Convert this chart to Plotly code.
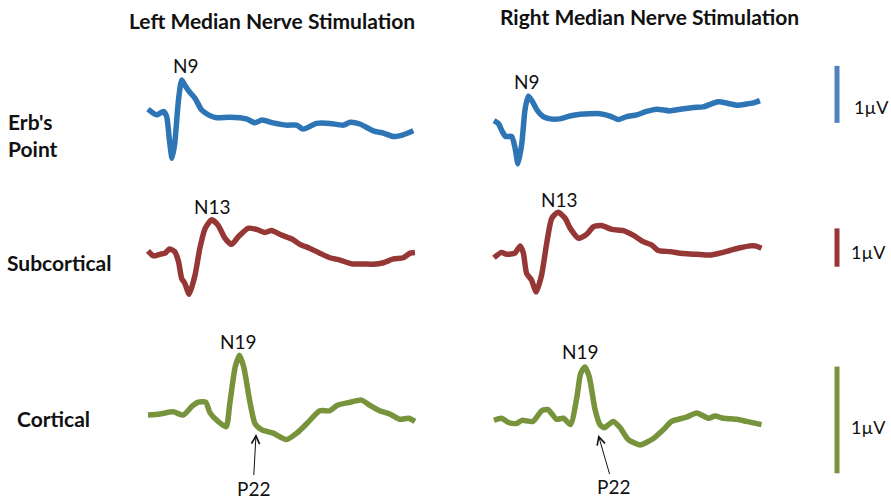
import plotly.graph_objects as go

# ---------------- data (time in ms, amplitude in µV) ----------------
erb_left_t = [0.0, 1.6, 2.9, 3.5, 4.0, 4.5, 5.0, 5.7, 6.3, 6.9, 7.7, 8.8, 10.0, 11.3, 12.8, 15.3, 18.4,
              20.0, 21.3, 23.4, 25.9, 27.8, 29.0, 31.5, 34.0, 36.5, 37.8, 39.6, 42.1, 44.0, 45.9, 47.7, 49.6]
erb_left_v = [0.19, 0.09, 0.15, 0.06, -0.35, -0.67, -0.41, 0.35, 0.70, 0.61, 0.50, 0.38, 0.18, 0.09, 0.04, 0.05, 0.02,
              -0.05, 0.00, -0.05, -0.09, -0.09, -0.16, -0.06, -0.06, -0.09, -0.04, -0.07, -0.19, -0.23, -0.29, -0.26, -0.19]

erb_right_t = [0.0, 0.8, 1.6, 2.2, 3.3, 3.9, 4.5, 5.2, 5.8, 6.4, 7.2, 8.0, 9.2, 10.5, 12.3, 14.2, 16.1, 17.9,
               19.8, 21.7, 23.2, 24.8, 26.7, 28.5, 30.4, 32.9, 34.8, 37.3, 39.1, 41.9, 43.8, 45.4, 47.2, 48.5, 49.7]
erb_right_v = [-0.01, -0.06, -0.21, -0.29, -0.29, -0.47, -0.77, -0.41, 0.18, 0.42, 0.32, 0.18, 0.06, 0.02, 0.02, 0.07, 0.10, 0.11,
               0.11, 0.07, 0.01, 0.06, 0.09, 0.15, 0.19, 0.16, 0.19, 0.22, 0.23, 0.32, 0.29, 0.26, 0.28, 0.30, 0.34]

sub_left_t = [0.0, 1.0, 2.2, 3.2, 4.0, 5.0, 5.7, 6.3, 6.9, 7.7, 8.8, 9.7, 10.7, 11.9, 13.1, 14.4, 15.6, 16.9, 18.7,
              20.3, 21.9, 23.1, 25.0, 26.9, 28.4, 30.2, 32.1, 34.0, 35.9, 38.1, 40.2, 42.1, 44.0, 45.9, 47.7, 49.0, 49.9]
sub_left_v = [0.03, -0.10, -0.06, -0.03, 0.08, 0.01, -0.25, -0.69, -0.82, -1.10, -0.60, 0.10, 0.62, 0.84, 0.70, 0.36, 0.20, 0.40, 0.62,
              0.59, 0.51, 0.56, 0.44, 0.34, 0.20, 0.10, -0.03, -0.15, -0.21, -0.31, -0.31, -0.32, -0.28, -0.18, -0.15, -0.03, -0.01]

sub_right_t = [0.0, 1.4, 2.4, 3.9, 4.9, 5.5, 6.1, 7.0, 7.9, 8.9, 9.9, 10.8, 12.0, 13.3, 14.2, 15.8, 17.3, 18.6,
               20.1, 22.0, 24.2, 26.0, 27.9, 29.5, 30.7, 32.9, 35.4, 37.9, 40.4, 42.2, 44.1, 46.0, 47.9, 48.8, 50.0]
sub_right_v = [-0.15, -0.01, -0.06, -0.03, 0.16, -0.03, -0.56, -0.73, -1.04, -0.60, 0.27, 0.88, 1.04, 0.88, 0.63, 0.36, 0.46, 0.66,
               0.69, 0.59, 0.56, 0.44, 0.27, 0.18, 0.04, 0.01, -0.04, -0.06, -0.08, -0.03, 0.04, 0.11, 0.16, 0.16, 0.10]

cor_left_t = [0.0, 2.2, 4.7, 6.6, 8.2, 9.4, 10.8, 11.6, 13.1, 14.6, 15.3, 16.3, 17.1, 17.9, 19.1, 20.0, 21.3,
              23.4, 25.9, 27.8, 29.7, 32.1, 34.0, 35.3, 37.8, 39.9, 41.5, 43.3, 45.2, 47.1, 48.7, 49.9]
cor_left_v = [0.00, 0.01, 0.03, 0.00, 0.08, 0.12, 0.12, 0.02, -0.06, -0.11, 0.11, 0.45, 0.56, 0.45, 0.11, -0.08, -0.14,
              -0.17, -0.23, -0.17, -0.08, 0.04, 0.04, 0.09, 0.12, 0.14, 0.09, 0.04, 0.01, -0.04, -0.03, -0.06]

cor_right_t = [0.0, 1.4, 2.7, 4.2, 5.2, 7.3, 8.9, 10.1, 11.7, 13.0, 14.3, 15.5, 16.2, 17.0, 17.8, 18.9, 19.8,
               20.6, 21.4, 22.3, 23.6, 25.1, 27.3, 29.8, 31.6, 33.2, 36.0, 37.9, 40.1, 41.3, 42.9, 45.4, 47.2, 50.0]
cor_right_v = [-0.05, -0.03, -0.07, -0.08, -0.05, -0.06, 0.04, 0.05, -0.04, -0.03, -0.09, 0.17, 0.39, 0.45, 0.36, 0.05, -0.09,
               -0.12, -0.09, -0.06, -0.12, -0.23, -0.28, -0.22, -0.14, -0.06, -0.02, 0.02, -0.03, -0.01, -0.03, -0.04, -0.06, -0.09]

column_titles = ["Left Median Nerve Stimulation", "Right Median Nerve Stimulation"]
row_labels = ["Erb's<br>Point", "Subcortical", "Cortical"]
scale_bar_uV = 1.0
scale_label = "1µV"

# peak labels: (text, column, row, time ms, amplitude µV)
peak_labels = [("N9", 0, 0, 7.1, 0.965), ("N9", 1, 0, 6.1, 0.67),
               ("N13", 0, 1, 12.1, 1.18), ("N13", 1, 1, 12.3, 1.36),
               ("N19", 0, 2, 16.9, 0.687), ("N19", 1, 2, 16.1, 0.593)]
# P22 arrows: (column, time ms, amplitude µV, dx px, dy px)
p22_arrows = [(0, 20.2, -0.178, -3, 54), (1, 19.5, -0.187, 15, 52)]

# ---------------- styling ----------------
trace_colors = ["#2e75b6", "#953735", "#77933c"]
bar_colors = ["#4f81bd", "#953735", "#77933c"]
W, H = 891, 500
FONT = "Lato"

row_dom = [[0.64, 0.92], [0.38, 0.624], [0.04, 0.34]]
row_rng = [[-1.053, 1.404], [-1.514, 1.671], [-0.609, 0.797]]
bar_bottom = [-0.05, -0.384, -0.546]
t_range = [-3.36, 52.71]
col_dom = [[130 / W, 430 / W], [476 / W, 776 / W]]

fig = go.Figure()
series = [(erb_left_t, erb_left_v, erb_right_t, erb_right_v),
          (sub_left_t, sub_left_v, sub_right_t, sub_right_v),
          (cor_left_t, cor_left_v, cor_right_t, cor_right_v)]

for r, (lt, lv, rt, rv) in enumerate(series):
    ya = "y" if r == 0 else f"y{r + 1}"
    fig.add_trace(go.Scatter(x=lt, y=lv, mode="lines", xaxis="x", yaxis=ya,
                             line=dict(color=trace_colors[r], width=5.5, shape="spline", smoothing=0.6),
                             hoverinfo="skip", showlegend=False))
    fig.add_trace(go.Scatter(x=rt, y=rv, mode="lines", xaxis="x2", yaxis=ya,
                             line=dict(color=trace_colors[r], width=5.5, shape="spline", smoothing=0.6),
                             hoverinfo="skip", showlegend=False))
    fig.add_trace(go.Scatter(x=[0, 0], y=[bar_bottom[r], bar_bottom[r] + scale_bar_uV], mode="lines",
                             xaxis="x3", yaxis=ya, line=dict(color=bar_colors[r], width=5),
                             hoverinfo="skip", showlegend=False))

hidden = dict(visible=False, showgrid=False, zeroline=False, fixedrange=True)
layout = dict(
    width=W, height=H, margin=dict(l=0, r=0, t=0, b=0),
    paper_bgcolor="white", plot_bgcolor="rgba(0,0,0,0)",
    xaxis=dict(domain=col_dom[0], range=t_range, anchor="y3", **hidden),
    xaxis2=dict(domain=col_dom[1], range=t_range, anchor="y3", **hidden),
    xaxis3=dict(domain=[817 / W, 857 / W], range=[-1, 1], anchor="y3", **hidden),
    showlegend=False,
)
for r in range(3):
    key = "yaxis" if r == 0 else f"yaxis{r + 1}"
    layout[key] = dict(domain=row_dom[r], range=row_rng[r], anchor="x", **hidden)
fig.update_layout(**layout)

ann = []
# column titles
title_pos = [(272, 20), (649, 16)]
for txt, (px, py) in zip(column_titles, title_pos):
    ann.append(dict(text="<b>" + txt + "</b>", x=px / W, y=1 - py / H, xref="paper", yref="paper",
                    showarrow=False, font=dict(family=FONT, size=21, color="#111"),
                    xanchor="center", yanchor="middle"))
# row labels
row_pos = [(33, 135), (59, 262), (53, 418)]
for lbl, (px, py) in zip(row_labels, row_pos):
    ann.append(dict(text="<b>" + lbl + "</b>", x=px / W, y=1 - py / H, xref="paper", yref="paper",
                    showarrow=False, font=dict(family=FONT, size=21, color="#111"),
                    xanchor="center", yanchor="middle", align="left"))
# scale labels
scale_lbl_pos = [(871, 107), (868, 252), (868, 427)]
for px, py in scale_lbl_pos:
    ann.append(dict(text=scale_label, x=px / W, y=1 - py / H, xref="paper", yref="paper",
                    showarrow=False, font=dict(family=FONT, size=18, color="#111"),
                    xanchor="center", yanchor="middle"))
# peak labels
for text, c, r, t, v in peak_labels:
    ann.append(dict(text=text, x=t, y=v, xref="x" if c == 0 else "x2", yref="y" if r == 0 else f"y{r + 1}",
                    showarrow=False, font=dict(family=FONT, size=19, color="#111"),
                    xanchor="center", yanchor="middle"))
# P22 arrows
for c, t, v, dx, dy in p22_arrows:
    ann.append(dict(text="P22", x=t, y=v, xref="x" if c == 0 else "x2", yref="y3",
                    showarrow=True, arrowhead=5, arrowsize=1.6, arrowwidth=1, arrowcolor="#111",
                    ax=dx, ay=dy, font=dict(family=FONT, size=19, color="#111")))
fig.update_layout(annotations=ann)

fig.write_html("out.html", config={"displayModeBar": False},
               post_script="document.body.style.margin='0px';")
